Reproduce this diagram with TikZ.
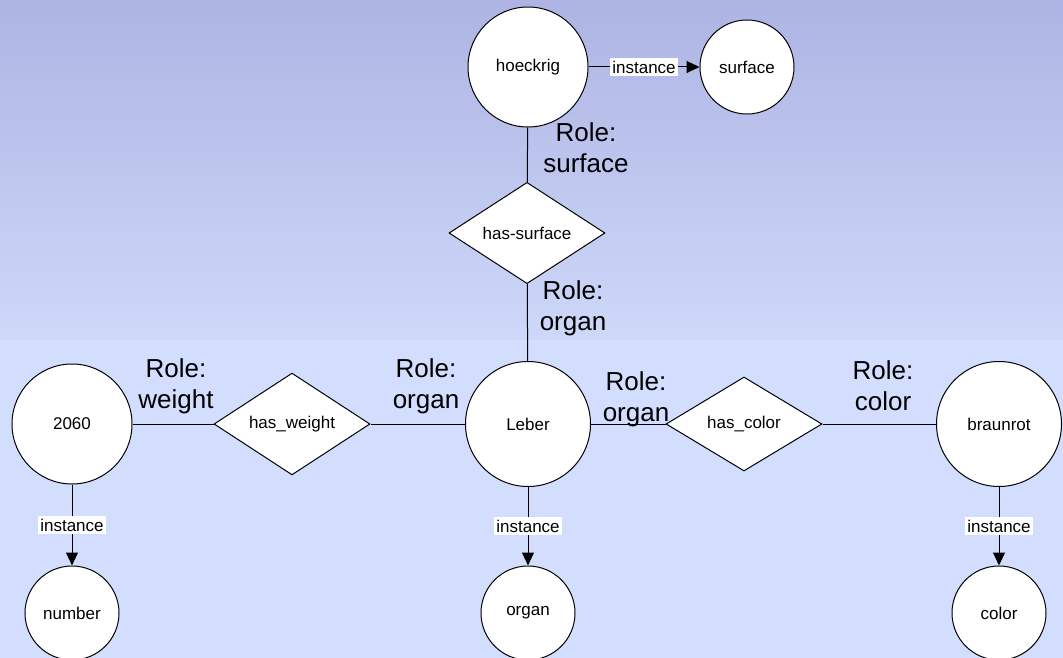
\documentclass[tikz,border=0pt]{standalone}
\usepackage{fontspec}
\setmainfont{Liberation Sans}
\usetikzlibrary{shapes.geometric,arrows.meta,positioning}
\definecolor{bgtop}{RGB}{173,180,227}
\definecolor{bgmid}{RGB}{206,216,249}
\definecolor{bgbot}{RGB}{211,222,255}

\begin{document}
\begin{tikzpicture}[x=1pt, y=1pt, line width=1pt,
    every node/.style={font=\fontsize{17}{20}\selectfont},
    concept/.style={draw, circle, fill=white, inner sep=0pt, minimum size=#1},
    concept/.default=120,
    relation/.style={draw, diamond, fill=white, inner sep=0pt, minimum width=156, minimum height=94},
    rolelbl/.style={align=center, font=\fontsize{26}{31}\selectfont},
    isa/.style={-{Triangle[length=13pt,width=12pt]}},
    isalbl/.style={fill=white, inner xsep=2pt, inner ysep=3pt}]
    % Background
    \useasboundingbox (0,0) rectangle (1063,-658);
    \shade[top color=bgtop, bottom color=bgmid] (0,0) rectangle (1063,-340);
    \fill[bgbot] (0,-340) rectangle (1063,-658);

    % Concepts and relations
    \node[concept] (hoeckrig) at (528,-67) {hoeckrig};
    \node[concept=94] (surfacecls) at (747,-67) {surface};
    \node[relation] (hassurface) at (527,-233) {has-surface};
    \node[concept=125] (leber) at (528,-424) {Leber};
    \node[relation] (hasweight) at (292,-424) {has\_weight};
    \node[concept] (weightval) at (72,-424) {2060};
    \node[relation] (hascolor) at (744,-424) {has\_color};
    \node[concept=125] (braunrot) at (999,-424) {braunrot};
    \node[concept=94] (numbercls) at (72,-613) {number};
    \node[concept=94] (organcls) at (528,-613) {organ};
    \node[concept=94] (colorcls) at (999,-613) {color};

    % Role edges
    \draw (hoeckrig) -- (hassurface);
    \draw (hassurface) -- (leber);
    \draw (weightval) -- (hasweight);
    \draw (hasweight) -- (leber);
    \draw (leber) -- (hascolor);
    \draw (hascolor) -- (braunrot);

    % Instance edges
    \draw[isa] (hoeckrig) -- node[isalbl] {instance} (surfacecls);
    \draw[isa] (weightval) -- node[isalbl] {instance} (numbercls);
    \draw[isa] (leber) -- node[isalbl] {instance} (organcls);
    \draw[isa] (braunrot) -- node[isalbl] {instance} (colorcls);

    % Role labels
    \node[rolelbl] (rsurface) at (586,-148) {Role:\\surface};
    \node[rolelbl] (rorgantop) at (573,-308) {Role:\\organ};
    \node[rolelbl] (rweight) at (176,-386) {Role:\\weight};
    \node[rolelbl] (rorganleft) at (426,-386) {Role:\\organ};
    \node[rolelbl] (rorganright) at (636,-399) {Role:\\organ};
    \node[rolelbl] (rcolor) at (883,-386) {Role:\\color};
\end{tikzpicture}
\end{document}
